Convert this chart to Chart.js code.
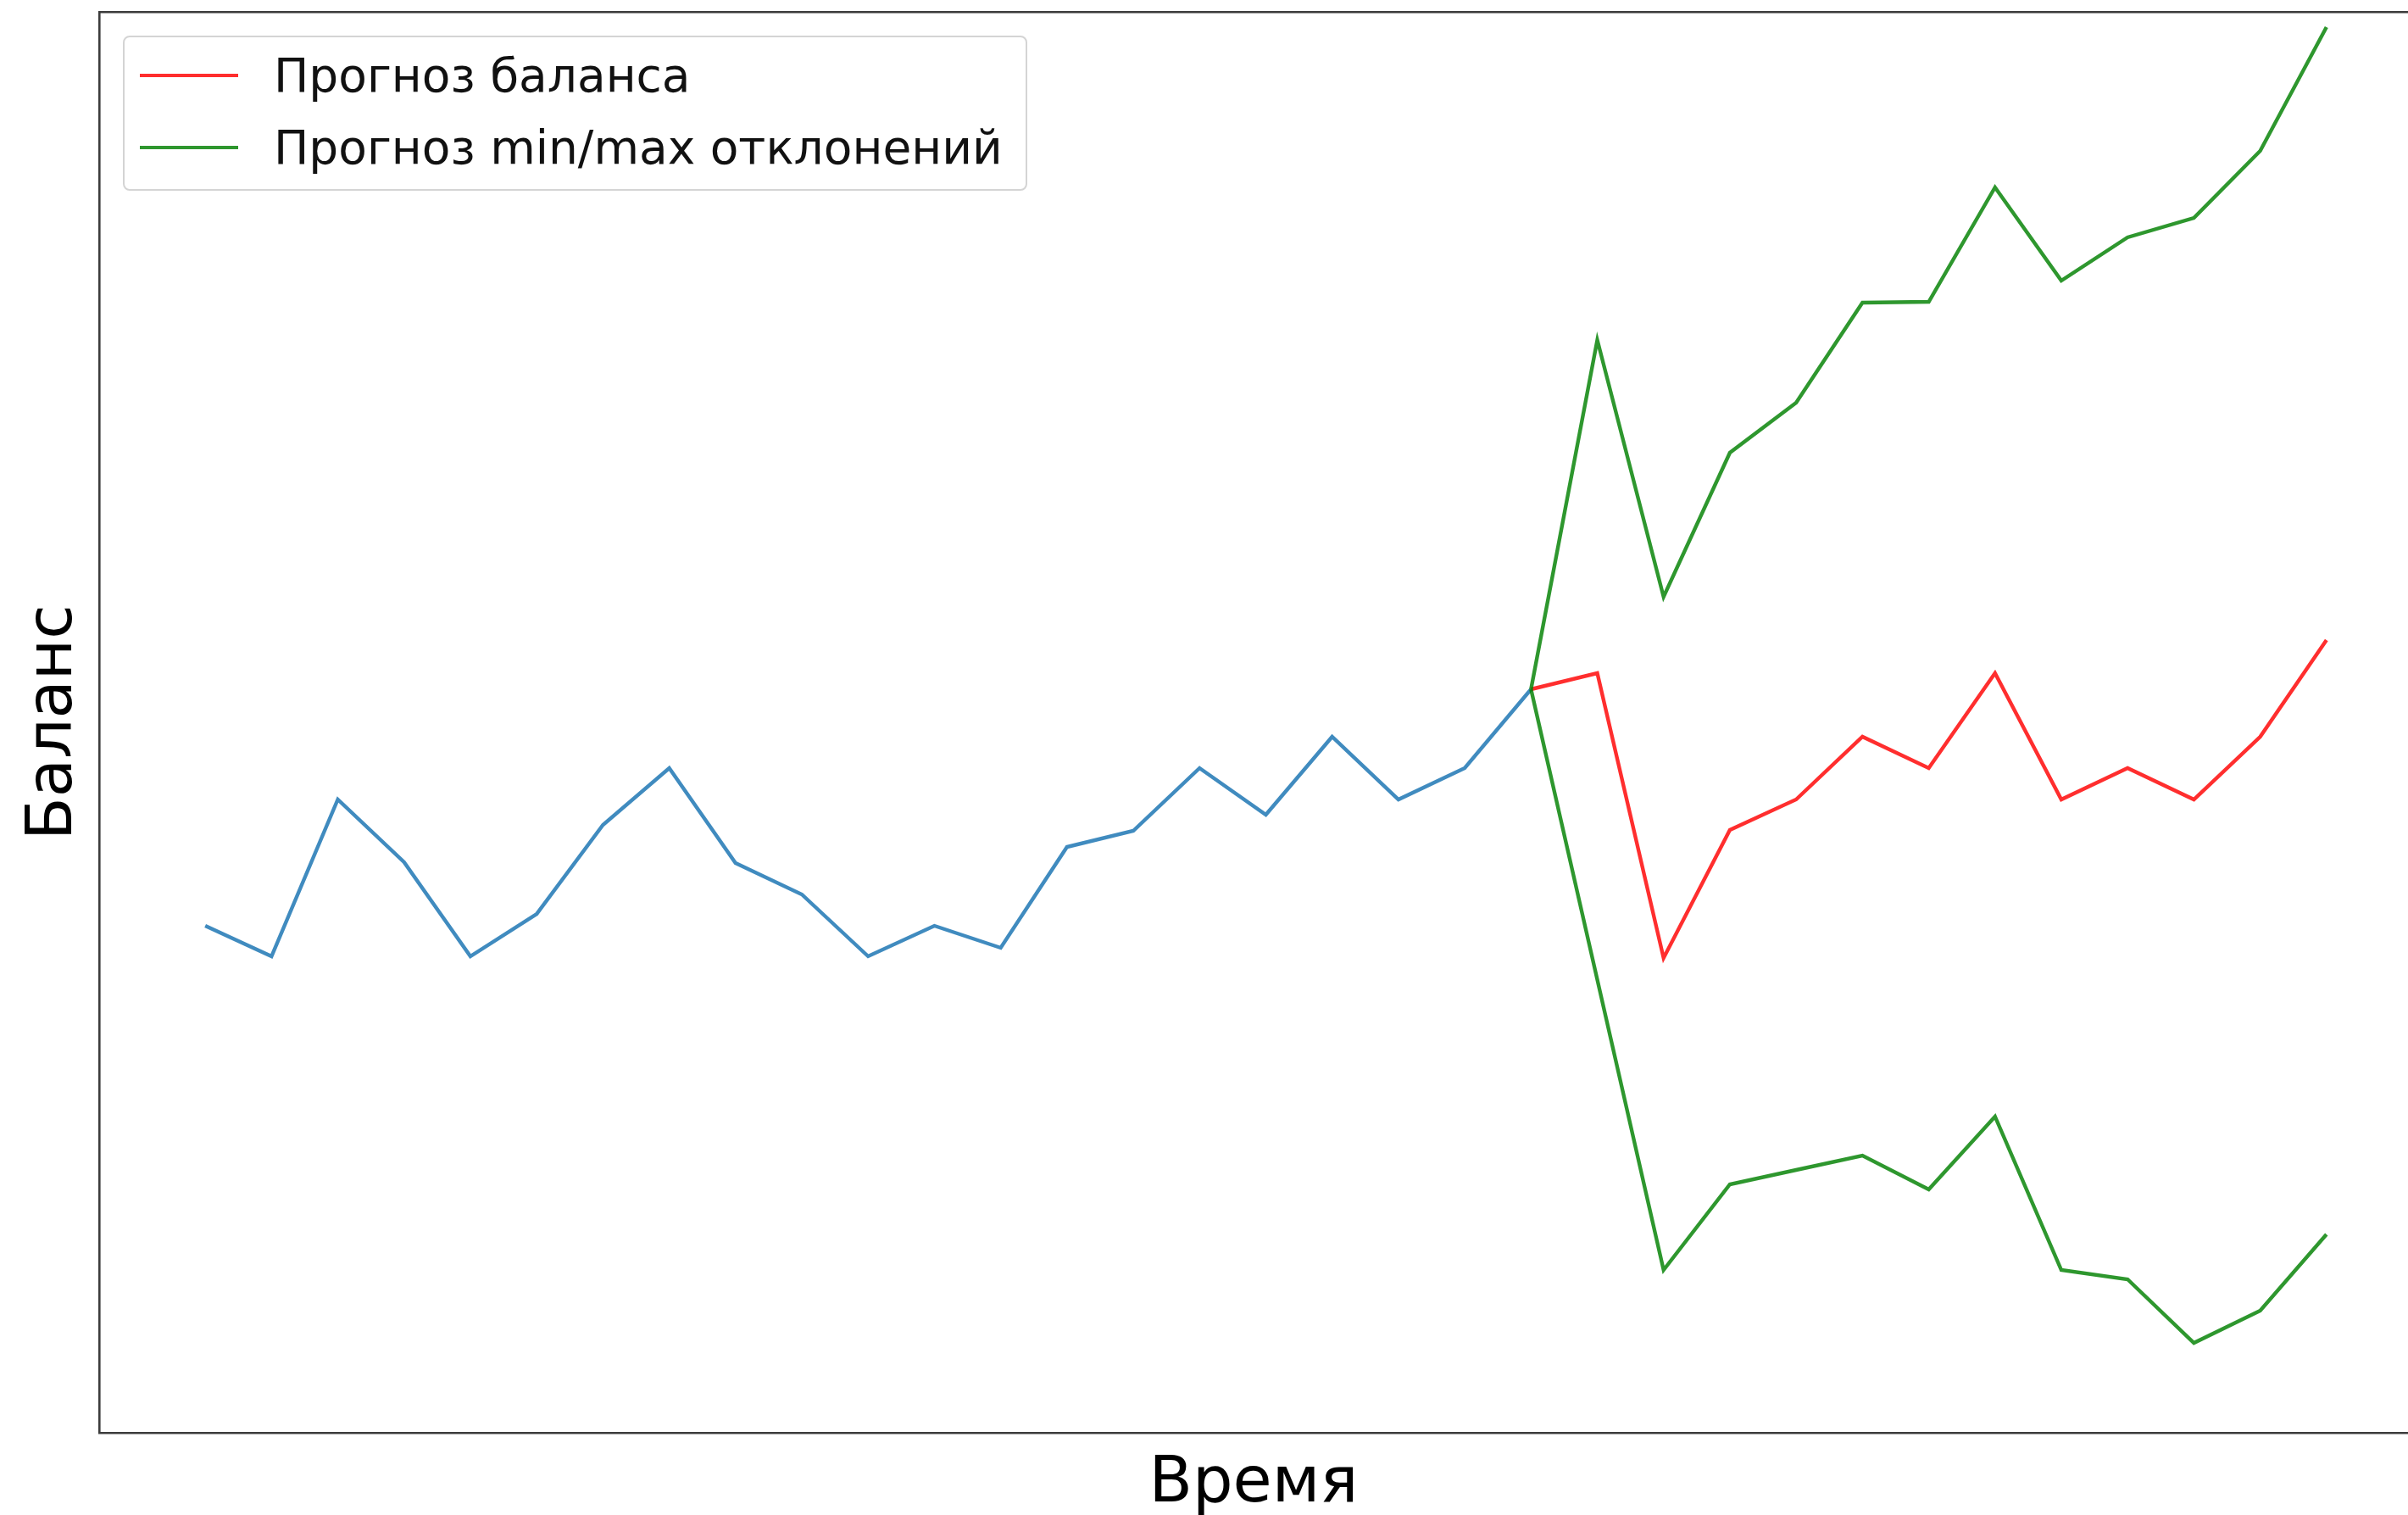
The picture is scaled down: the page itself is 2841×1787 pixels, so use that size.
<!DOCTYPE html>
<html lang="ru">
<head>
<meta charset="utf-8">
<title>Прогноз баланса</title>
<script src="https://cdn.jsdelivr.net/npm/chart.js@4.4.1/dist/chart.umd.min.js"></script>
<style>
  html, body { margin: 0; padding: 0; background: #fff; }
  #wrap { position: relative; width: 2841px; height: 1787px; }
  #legend {
    position: absolute; left: 145px; top: 42px; width: 1063px; height: 179px;
    border: 2px solid #d4d4d4; border-radius: 8px; background: rgba(255,255,255,0.8);
    font-family: "DejaVu Sans", sans-serif; font-size: 55px; color: #111;
  }
  .row { position: absolute; left: 0; height: 70px; width: 100%; }
  .row .swatch { position: absolute; left: 18px; top: 33px; width: 116px; height: 4px; }
  .row .txt { position: absolute; left: 176px; top: 0; line-height: 70px; white-space: nowrap; }
</style>
</head>
<body>
<div id="wrap">
  <canvas id="balanceChart" width="2841" height="1787"></canvas>
  <div id="legend"></div>
</div>
<script>
// шаги времени (ось без подписей)
const steps = [0, 1, 2, 3, 4, 5, 6, 7, 8, 9, 10, 11, 12, 13, 14, 15, 16,
               17, 18, 19, 20, 21, 22, 23, 24, 25, 26, 27, 28, 29, 30, 31, 32];

// история баланса: шаги 0..20
const history = [59.8, 56.2, 74.7, 67.3, 56.2, 61.2, 71.7, 78.4, 67.2, 63.5, 56.2,
                 59.8, 57.2, 69.1, 71.0, 78.4, 72.9, 82.1, 74.7, 78.4, 87.7];

// прогноз: шаги 20..32
const forecast    = [87.7, 89.6, 56.0, 71.1, 74.7, 82.1, 78.4, 89.6, 74.7, 78.4, 74.7, 82.1, 93.5];
const forecastMax = [87.7, 128.9, 98.6, 115.6, 121.5, 133.3, 133.4, 146.9, 135.9, 141.0, 143.3, 151.2, 165.8];
const forecastMin = [87.7, null, 19.2, 29.3, 31.0, 32.7, 28.7, 37.3, 19.2, 18.1, 10.6, 14.4, 23.4];

const forecastStart = 20;

function toPoints(values, offset) {
    return values.map((v, i) => ({ x: steps[offset + i], y: v }));
}

const frameColor = '#3c3c3c';
const frameWidth = 2.6;
const lineW = 4.4;

const ctx = document.getElementById('balanceChart').getContext('2d');

const data = {
    datasets: [
        {
            label: '',
            data: toPoints(history, 0),
            borderColor: 'rgba(31, 119, 180, 0.85)',
            borderWidth: lineW,
            pointRadius: 0,
            tension: 0,
            order: 3
        },
        {
            label: 'Прогноз баланса',
            data: toPoints(forecast, forecastStart),
            borderColor: 'rgba(255, 0, 0, 0.82)',
            borderWidth: lineW,
            pointRadius: 0,
            tension: 0,
            order: 2
        },
        {
            label: 'Прогноз min/max отклонений',
            data: toPoints(forecastMax, forecastStart),
            borderColor: 'rgba(0, 128, 0, 0.82)',
            borderWidth: lineW,
            pointRadius: 0,
            tension: 0,
            order: 1
        },
        {
            label: '',
            data: toPoints(forecastMin, forecastStart),
            borderColor: 'rgba(0, 128, 0, 0.82)',
            borderWidth: lineW,
            pointRadius: 0,
            tension: 0,
            spanGaps: true,
            order: 1
        }
    ]
};

const config = {
    type: 'line',
    data: data,
    options: {
        responsive: false,
        animation: false,
        devicePixelRatio: 1,
        layout: { padding: { top: 14, left: 0, right: 0, bottom: 0 } },
        scales: {
            x: {
                type: 'linear',
                position: 'bottom',
                min: -1.6,
                max: 33.23,
                ticks: { display: false },
                grid: { display: false },
                border: { display: true, color: frameColor, width: frameWidth },
                title: {
                    display: true,
                    text: 'Время',
                    color: '#000',
                    font: { family: 'DejaVu Sans', size: 75, lineHeight: 0.95 },
                    padding: { top: 0, bottom: 0 }
                },
                afterFit: (scale) => { scale.height = 97; }
            },
            xTop: {
                type: 'linear',
                position: 'top',
                min: -1.6,
                max: 33.23,
                ticks: { display: false },
                grid: { display: false },
                border: { display: true, color: frameColor, width: frameWidth },
                afterFit: (scale) => { scale.height = 0; }
            },
            y: {
                min: 0,
                max: 167.6,
                ticks: { display: false },
                grid: { display: false },
                border: { display: true, color: frameColor, width: frameWidth },
                title: {
                    display: true,
                    text: 'Баланс',
                    color: '#000',
                    font: { family: 'DejaVu Sans', size: 74, lineHeight: 1.2 },
                    padding: { top: 20, bottom: 0 }
                },
                afterFit: (scale) => { scale.width = 117; }
            }
        },
        plugins: {
            legend: { display: false },
            tooltip: { enabled: false }
        }
    }
};

const chart = new Chart(ctx, config);

// легенда поверх области графика, как в исходной картинке
const legendBox = document.getElementById('legend');
const rowTops = [10, 95];
chart.data.datasets
    .filter(ds => ds.label)
    .forEach((ds, i) => {
        const row = document.createElement('div');
        row.className = 'row';
        row.style.top = rowTops[i] + 'px';
        const sw = document.createElement('div');
        sw.className = 'swatch';
        sw.style.background = ds.borderColor;
        const txt = document.createElement('span');
        txt.className = 'txt';
        txt.textContent = ds.label;
        row.appendChild(sw);
        row.appendChild(txt);
        legendBox.appendChild(row);
    });
</script>
</body>
</html>
